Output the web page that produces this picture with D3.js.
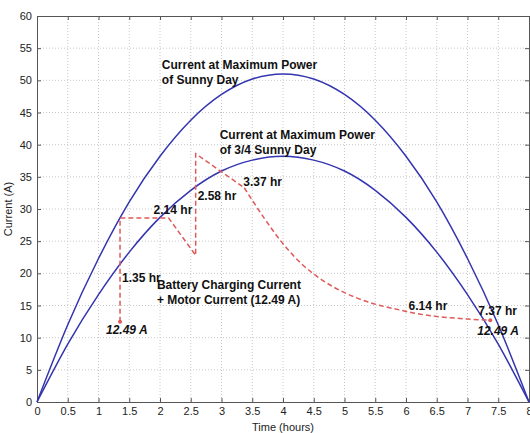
<!DOCTYPE html>
<html>
<head>
<meta charset="utf-8">
<script src="https://cdn.jsdelivr.net/npm/d3@7"></script>
<style>
  body { margin: 0; background: #fff; }
  text { font-family: "Liberation Sans", Arial, sans-serif; }
  .tick text { font-size: 11px; fill: #222; }
  .lbl { font-size: 12px; font-weight: bold; fill: #111; }
</style>
</head>
<body>
<svg id="chart" width="530" height="433"></svg>
<script>
// time in hours, sampled every half hour
const hours = [0, 0.5, 1, 1.5, 2, 2.5, 3, 3.5, 4, 4.5, 5, 5.5, 6, 6.5, 7, 7.5, 8];
// current at maximum power, sunny day
const sunnyDay = [0, 12.0, 22.3, 31.1, 38.2, 43.8, 47.8, 50.2, 51.0, 50.2, 47.8, 43.8, 38.2, 31.1, 22.3, 12.0, 0];
// current at maximum power, 3/4 sunny day
const threeQuarterDay = [0, 9.0, 16.7, 23.3, 28.7, 32.9, 35.9, 37.6, 38.2, 37.6, 35.9, 32.9, 28.7, 23.3, 16.7, 9.0, 0];

// battery charging + motor current (step part, straight segments)
const chargeStepT = [1.35, 1.35, 2.14, 2.58, 2.58, 3.37];
const chargeStepI = [12.49, 28.6, 28.6, 22.8, 38.6, 33.3];
// battery charging + motor current (decay part, smooth)
const chargeDecayT = [3.37, 3.7, 4.0, 4.3, 4.6, 5.0, 5.4, 5.9, 6.14, 6.5, 7.0, 7.37];
const chargeDecayI = [33.3, 28.5, 24.6, 21.5, 19.2, 17.0, 15.5, 14.3, 13.8, 13.3, 12.9, 12.7];

const xTicks = d3.range(0, 8.01, 0.5);
const yTicks = d3.range(0, 60.1, 5);

const annotations = [
  { t: 1.35, i: 12.49, dx: -14, dy: 12, text: '12.49 A', italic: true },
  { t: 1.35, i: 21.3, dx: 2, dy: 17, text: '1.35 hr' },
  { t: 2.14, i: 28.6, dx: -15, dy: -4, text: '2.14 hr' },
  { t: 2.58, i: 33.5, dx: 2, dy: 14, text: '2.58 hr' },
  { t: 3.37, i: 33.3, dx: -1, dy: -2, text: '3.37 hr' },
  { t: 6.14, i: 13.8, dx: -6, dy: -3, text: '6.14 hr' },
  { t: 7.37, i: 12.7, dx: -12, dy: -5, text: '7.37 hr' },
  { t: 7.37, i: 12.7, dx: -13, dy: 15, text: '12.49 A', italic: true }
];

const curveLabels = [
  { t: 2.03, i: 51.8, lines: ['Current at Maximum Power', 'of Sunny Day'] },
  { t: 2.97, i: 40.9, lines: ['Current at Maximum Power', 'of 3/4 Sunny Day'] },
  { t: 1.95, i: 17.6, lines: ['Battery Charging Current', '+ Motor Current (12.49 A)'] }
];

const svg = d3.select('#chart');
const margin = { top: 16, right: 1, bottom: 31, left: 37 };
const width = 530 - margin.left - margin.right;
const height = 433 - margin.top - margin.bottom;

const x = d3.scaleLinear().domain([0, 8]).range([0, width]);
const y = d3.scaleLinear().domain([0, 60]).range([height, 0]);

const g = svg.append('g').attr('transform', `translate(${margin.left},${margin.top})`);

// grid
g.append('g').selectAll('line').data(xTicks.slice(1, -1)).join('line')
  .attr('x1', d => x(d)).attr('x2', d => x(d)).attr('y1', 0).attr('y2', height)
  .attr('stroke', '#c8c8c8').attr('stroke-width', 1).attr('stroke-dasharray', '1,2');
g.append('g').selectAll('line').data(yTicks.slice(1, -1)).join('line')
  .attr('y1', d => y(d)).attr('y2', d => y(d)).attr('x1', 0).attr('x2', width)
  .attr('stroke', '#c8c8c8').attr('stroke-width', 1).attr('stroke-dasharray', '1,2');

// axes, ticks pointing inward
const fmt = d3.format('~g');
g.append('g').attr('transform', `translate(0,${height})`)
  .call(d3.axisBottom(x).tickValues(xTicks).tickFormat(fmt).tickSize(-4).tickPadding(5));
g.append('g')
  .call(d3.axisLeft(y).tickValues(yTicks).tickFormat(fmt).tickSize(-4).tickPadding(5));
g.append('g').call(d3.axisTop(x).tickValues(xTicks).tickFormat('').tickSize(-4));
g.append('g').attr('transform', `translate(${width},0)`)
  .call(d3.axisRight(y).tickValues(yTicks).tickFormat('').tickSize(-4));
g.selectAll('.domain').attr('stroke', '#555');
g.selectAll('.tick line').attr('stroke', '#555');

// curves
const line = d3.line().x(d => x(d[0])).y(d => y(d[1])).curve(d3.curveNatural);
[sunnyDay, threeQuarterDay].forEach(series => {
  g.append('path')
    .datum(hours.map((t, k) => [t, series[k]]))
    .attr('d', line)
    .attr('fill', 'none')
    .attr('stroke', '#3434b0')
    .attr('stroke-width', 1.5);
});

// battery charging current (dashed)
const straight = d3.line().x(d => x(d[0])).y(d => y(d[1]));
const smooth = d3.line().x(d => x(d[0])).y(d => y(d[1])).curve(d3.curveMonotoneX);
const dashStyle = sel => sel.attr('fill', 'none').attr('stroke', '#e05a5a')
  .attr('stroke-width', 1.5).attr('stroke-dasharray', '5,3');
g.append('path').datum(chargeStepT.map((t, k) => [t, chargeStepI[k]]))
  .attr('d', straight).call(dashStyle);
g.append('path').datum(chargeDecayT.map((t, k) => [t, chargeDecayI[k]]))
  .attr('d', smooth).call(dashStyle);

// end markers
g.selectAll('circle.mark')
  .data([[chargeStepT[0], chargeStepI[0]], [chargeDecayT[chargeDecayT.length - 1], chargeDecayI[chargeDecayI.length - 1]]])
  .join('circle')
  .attr('cx', d => x(d[0])).attr('cy', d => y(d[1])).attr('r', 2)
  .attr('fill', '#e05a5a');

// point annotations
g.selectAll('text.ann').data(annotations).join('text')
  .attr('class', 'lbl')
  .attr('x', d => x(d.t) + d.dx).attr('y', d => y(d.i) + d.dy)
  .style('font-style', d => d.italic ? 'italic' : 'normal')
  .text(d => d.text);

// curve labels
curveLabels.forEach(c => {
  const t = g.append('text').attr('class', 'lbl')
    .attr('x', x(c.t)).attr('y', y(c.i));
  c.lines.forEach((s, k) => t.append('tspan')
    .attr('x', x(c.t)).attr('dy', k ? 15 : 0).text(s));
});

// axis titles
svg.append('text')
  .attr('x', margin.left + width / 2).attr('y', 431)
  .attr('text-anchor', 'middle').style('font-size', '11px').attr('fill', '#222')
  .text('Time (hours)');
svg.append('text')
  .attr('transform', `translate(12,${margin.top + height / 2}) rotate(-90)`)
  .attr('text-anchor', 'middle').style('font-size', '11px').attr('fill', '#222')
  .text('Current (A)');
</script>
</body>
</html>
